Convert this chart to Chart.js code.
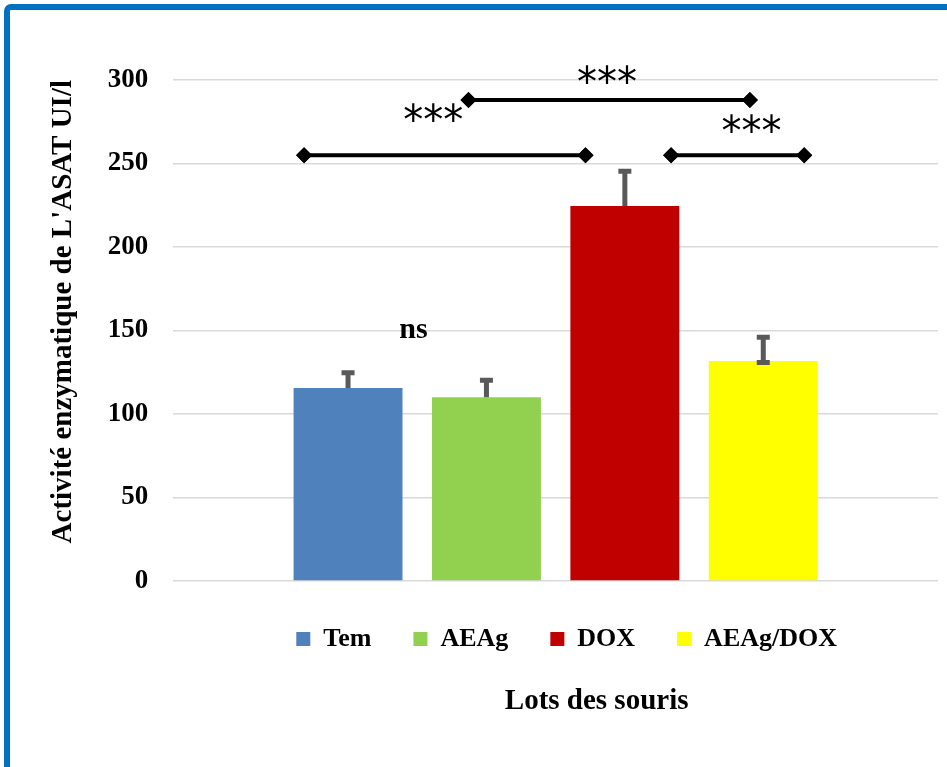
<!DOCTYPE html>
<html>
<head>
<meta charset="utf-8">
<script src="https://cdn.jsdelivr.net/npm/chart.js@4.4.1/dist/chart.umd.min.js"></script>
<style>
    body { margin: 0; background: #fff; }
    #wrap { position: relative; width: 947px; height: 767px; overflow: hidden; }
    #frame {
        position: absolute; left: 4px; top: 4px; width: 1200px; height: 1200px;
        border-left: 6px solid #0070C0; border-top: 6px solid #0070C0;
        border-top-left-radius: 7px;
    }
    #chart { position: absolute; left: 0; top: 0; }
</style>
</head>
<body>
<div id="wrap">
    <div id="frame"></div>
    <canvas id="chart" width="947" height="767"></canvas>
</div>
<script>
// =====================================================================
// DATA
// =====================================================================
const groups = ['Tem', 'AEAg', 'DOX', 'AEAg/DOX'];
const means = [115.6, 110, 224.6, 131.8];
const errUp = [9.1, 10.2, 20.7, 14.2];
const errDown = [0, 0, 0, 0.9];
const barColors = ['#4F81BD', '#92D050', '#C00000', '#FFFF00'];
const yTicks = [0, 50, 100, 150, 200, 250, 300];

// significance brackets: x in % of plot width, y in UI/l
const bracketX = [[17.1, 53.9], [65.1, 82.5], [38.6, 75.4]];
const bracketY = [255, 255, 288];
// labels over the brackets (x in % of plot width, y in UI/l)
const sigText = ['***', '***', '***', 'ns'];
const sigX = [34.0, 56.7, 75.6, 31.4];
const sigY = [280.8, 303.2, 273.8, 150];

const serif = "'Liberation Serif', 'Times New Roman', serif";

// =====================================================================
// PLUGINS
// =====================================================================
const errorBarsPlugin = {
    id: 'errorBars',
    afterDatasetsDraw(chart) {
        const ctx = chart.ctx;
        const y = chart.scales.y;
        ctx.save();
        ctx.strokeStyle = '#595959';
        ctx.lineWidth = 5;
        groups.forEach((g, i) => {
            const bar = chart.getDatasetMeta(i).data[0];
            if (!bar) return;
            const top = y.getPixelForValue(means[i] + errUp[i]);
            const bottom = y.getPixelForValue(means[i] - errDown[i]);
            ctx.beginPath();
            ctx.moveTo(bar.x, bottom);
            ctx.lineTo(bar.x, top);
            ctx.moveTo(bar.x - 6.5, top);
            ctx.lineTo(bar.x + 6.5, top);
            if (errDown[i] > 0) {
                ctx.moveTo(bar.x - 6.5, bottom);
                ctx.lineTo(bar.x + 6.5, bottom);
            }
            ctx.stroke();
        });
        ctx.restore();
    }
};

const bracketsPlugin = {
    id: 'sigBrackets',
    // nudge the legend a little to the right, like the original
    afterLayout(chart) {
        if (chart.legend) {
            chart.legend.left += 11;
            chart.legend.right += 11;
            chart.legend.top += 3;
            chart.legend.bottom += 3;
        }
    },
    afterDraw(chart) {
        const ctx = chart.ctx;
        const xs = chart.scales.xs;
        const y = chart.scales.y;
        const area = chart.chartArea;
        ctx.save();
        // brackets with diamond ends
        ctx.strokeStyle = '#000';
        ctx.fillStyle = '#000';
        bracketX.forEach((pair, i) => {
            const x1 = xs.getPixelForValue(pair[0]);
            const x2 = xs.getPixelForValue(pair[1]);
            const py = y.getPixelForValue(bracketY[i]);
            ctx.lineWidth = 4;
            ctx.beginPath();
            ctx.moveTo(x1, py);
            ctx.lineTo(x2, py);
            ctx.stroke();
            [x1, x2].forEach(px => {
                Chart.helpers.drawPoint(ctx, { pointStyle: 'rectRot', radius: 8, borderWidth: 0 }, px, py);
                ctx.fill();
            });
        });
        // stars and ns
        ctx.textAlign = 'center';
        ctx.textBaseline = 'alphabetic';
        sigText.forEach((t, i) => {
            ctx.font = t === 'ns' ? `bold 30px ${serif}` : "40px 'DejaVu Sans', sans-serif";
            const m = ctx.measureText(t);
            const cy = y.getPixelForValue(sigY[i]);
            const base = cy + (m.actualBoundingBoxAscent - m.actualBoundingBoxDescent) / 2;
            ctx.fillText(t, xs.getPixelForValue(sigX[i]), base);
        });
        // x axis title, below the legend
        ctx.font = `bold 29px ${serif}`;
        ctx.textBaseline = 'middle';
        ctx.fillText('Lots des souris', (area.left + area.right) / 2 + 41, 702);
        ctx.restore();
    }
};

// =====================================================================
// CHART
// =====================================================================
const barSets = groups.map((g, i) => ({
    label: g,
    data: [means[i]],
    backgroundColor: barColors[i],
    borderWidth: 0,
    categoryPercentage: 0.724,
    barPercentage: 0.787
}));

new Chart(document.getElementById('chart'), {
    type: 'bar',
    data: {
        labels: [''],
        datasets: barSets
    },
    options: {
        responsive: false,
        animation: false,
        layout: { padding: { left: 10, right: 9, top: 80, bottom: 108 } },
        scales: {
            x: { display: false },
            xs: { type: 'linear', display: false, offset: false, min: 0, max: 100 },
            y: {
                min: 0,
                max: 300,
                afterBuildTicks: axis => { axis.ticks = yTicks.map(v => ({ value: v })); },
                grid: { color: '#D9D9D9', lineWidth: 1.5, drawTicks: false },
                border: { display: false },
                ticks: {
                    padding: 25,
                    color: '#000',
                    font: { family: serif, size: 27, weight: 'bold' }
                },
                title: {
                    display: true,
                    text: "Activité enzymatique de L'ASAT UI/l",
                    align: 'end',
                    color: '#000',
                    font: { family: serif, size: 29, weight: 'bold' },
                    padding: { top: 36, bottom: 2 }
                }
            }
        },
        plugins: {
            legend: {
                position: 'bottom',
                fullSize: false,
                labels: {
                    boxWidth: 14,
                    boxHeight: 14,
                    padding: 42,
                    color: '#000',
                    font: { family: serif, size: 26, weight: 'bold' }
                }
            },
            tooltip: { enabled: false }
        }
    },
    plugins: [errorBarsPlugin, bracketsPlugin]
});
</script>
</body>
</html>
